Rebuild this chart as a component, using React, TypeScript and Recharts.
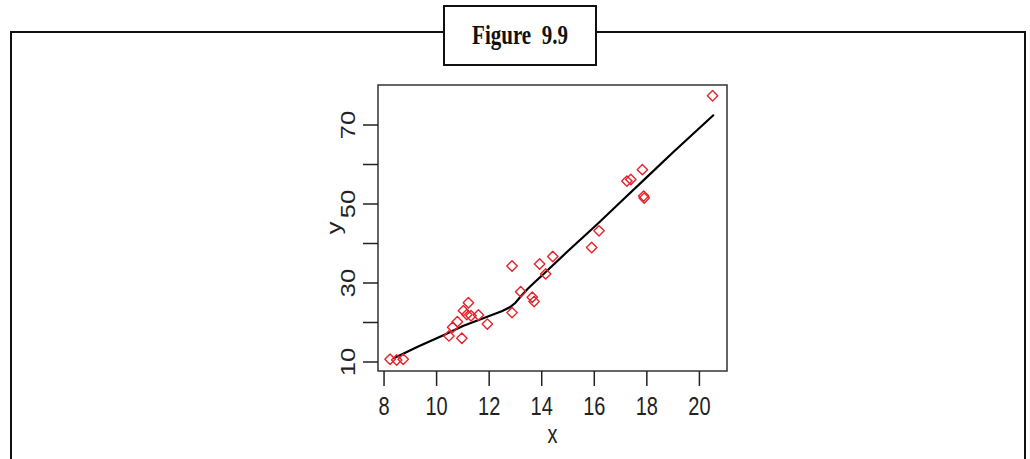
import React from 'react';
import { ComposedChart, Scatter, Line, XAxis, YAxis, ReferenceArea, Label } from 'recharts';

// observed points
const pointX = [8.23, 8.48, 8.73, 10.47, 10.61, 10.79, 10.96, 11.02, 11.15, 11.21, 11.31, 11.59, 11.93, 12.87, 12.87, 13.2, 13.64, 13.71, 13.92, 14.15, 14.42, 15.9, 16.18, 17.24, 17.39, 17.83, 17.88, 17.9, 20.5];
const pointY = [10.7, 10.5, 10.7, 16.6, 18.8, 20.2, 16.0, 23.0, 22.0, 25.0, 21.7, 21.9, 19.6, 34.3, 22.5, 27.8, 26.4, 25.3, 34.8, 32.3, 36.7, 39.0, 43.2, 55.8, 56.2, 58.7, 52.0, 51.5, 77.4];

// smooth fit line
const fitX = [8.35, 9.3, 10.3, 11.0, 11.9, 12.5, 12.8, 13.0, 13.2, 13.45, 13.75, 14.06, 15.0, 16.1, 17.0, 18.0, 19.0, 20.55];
const fitY = [10.9, 13.9, 16.9, 19.1, 21.4, 22.9, 23.9, 25.0, 26.6, 28.4, 30.3, 32.2, 38.1, 44.8, 50.5, 56.8, 63.1, 72.6];

const xTicks = [8, 10, 12, 14, 16, 18, 20];
const yTicks = [10, 20, 30, 40, 50, 60, 70];
const yTickLabels = [10, 30, 50, 70];
const xDomain = [7.77, 21.05];
const yDomain = [7.72, 80.13];
const xLabel = 'x';
const yLabel = 'y';
const title = 'Figure  9.9';

const points = pointX.map((x, i) => ({ x, y: pointY[i] }));
const fit = fitX.map((x, i) => ({ x, y: fitY[i] }));

const FONT = "'Liberation Sans', Arial, sans-serif";
const SY = 1.27;
const INK = '#222';

const Diamond = (props: any) => {
  const { cx, cy } = props;
  const r = 5.2;
  return (
    <polygon
      points={`${cx},${cy - r} ${cx + r},${cy} ${cx},${cy + r} ${cx - r},${cy}`}
      fill="none"
      stroke="#e3242b"
      strokeWidth={1.4}
      strokeLinejoin="round"
    />
  );
};

const XTick = (props: any) => {
  const { x, payload } = props;
  return (
    <text transform={`translate(${x},415) scale(1,${SY})`} textAnchor="middle" fontFamily={FONT} fontSize={20} fill={INK}>
      {payload.value}
    </text>
  );
};

const YTick = (props: any) => {
  const { y, payload } = props;
  if (!yTickLabels.includes(payload.value)) return <g />;
  return (
    <text transform={`translate(355,${y}) scale(1,${SY}) rotate(-90)`} textAnchor="middle" fontFamily={FONT} fontSize={20} fill={INK}>
      {payload.value}
    </text>
  );
};

const XTitle = (props: any) => {
  const { viewBox } = props;
  const cx = viewBox.x + viewBox.width / 2;
  return (
    <text transform={`translate(${cx},443) scale(1,${SY})`} textAnchor="middle" fontFamily={FONT} fontSize={20} fill={INK}>
      {xLabel}
    </text>
  );
};

const YTitle = (props: any) => {
  const { viewBox } = props;
  const cy = viewBox.y + viewBox.height / 2;
  return (
    <text transform={`translate(341,${cy}) scale(1,${SY}) rotate(-90)`} textAnchor="middle" fontFamily={FONT} fontSize={20} fill={INK}>
      {yLabel}
    </text>
  );
};

export default function App() {
  return (
    <div style={{ position: 'absolute', left: 0, top: 0, width: 1030, height: 459, background: '#fff', overflow: 'hidden' }}>
      <style>{`body{margin:0;overflow:hidden;}`}</style>
      <div
        style={{
          position: 'absolute',
          left: 10,
          top: 31,
          width: 1016,
          height: 440,
          border: '2px solid #111',
          boxSizing: 'border-box',
        }}
      />
      <div
        style={{
          position: 'absolute',
          left: 443,
          top: 5,
          width: 154,
          height: 61,
          border: '2px solid #111',
          boxSizing: 'border-box',
          background: '#fff',
          display: 'flex',
          alignItems: 'center',
          justifyContent: 'center',
        }}
      >
        <span
          style={{
            display: 'inline-block',
            fontFamily: "'Liberation Serif', 'DejaVu Serif', serif",
            fontWeight: 'bold',
            fontSize: 21,
            whiteSpace: 'pre',
            transform: `scaleY(${SY})`,
            color: '#111',
          }}
        >
          {title}
        </span>
      </div>
      <div style={{ position: 'absolute', left: 0, top: 0 }}>
        <ComposedChart width={1030} height={459} margin={{ top: 85, right: 303, bottom: 28, left: 318 }}>
          <XAxis
            type="number"
            dataKey="x"
            domain={xDomain}
            ticks={xTicks}
            allowDataOverflow
            axisLine={false}
            tickLine={{ stroke: INK, strokeWidth: 1.5 }}
            tickSize={15}
            height={60}
            tick={<XTick />}
            interval={0}
          >
            <Label content={<XTitle />} />
          </XAxis>
          <YAxis
            type="number"
            dataKey="y"
            domain={yDomain}
            ticks={yTicks}
            allowDataOverflow
            axisLine={false}
            tickLine={{ stroke: INK, strokeWidth: 1.5 }}
            tickSize={15}
            width={60}
            tick={<YTick />}
            interval={0}
          >
            <Label content={<YTitle />} />
          </YAxis>
          <ReferenceArea
            x1={xDomain[0]}
            x2={xDomain[1]}
            y1={yDomain[0]}
            y2={yDomain[1]}
            fill="none"
            stroke="#333"
            strokeWidth={1.5}
            ifOverflow="visible"
          />
          <Line
            data={fit}
            dataKey="y"
            type="linear"
            stroke="#000"
            strokeWidth={2.2}
            dot={false}
            activeDot={false}
            isAnimationActive={false}
          />
          <Scatter data={points} dataKey="y" shape={<Diamond />} isAnimationActive={false} />
        </ComposedChart>
      </div>
    </div>
  );
}
